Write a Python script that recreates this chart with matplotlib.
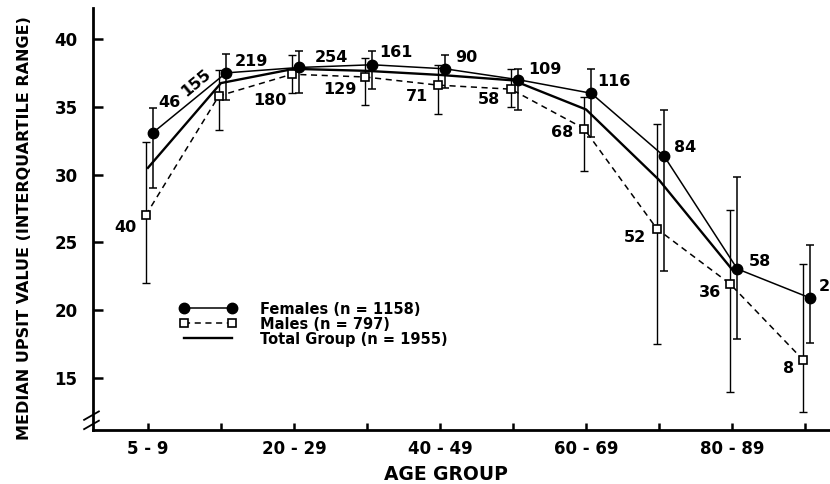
import matplotlib.pyplot as plt
import numpy as np

age_groups = ["5 - 9", "10 - 19", "20 - 29", "30 - 39", "40 - 49",
              "50 - 59", "60 - 69", "70 - 79", "80 - 89", "90 - 99"]

female_median = [33.1, 37.5, 37.9, 38.1, 37.8, 37.0, 36.0, 31.35, 23.05, 20.9]
female_q_hi = [34.9, 38.9, 39.1, 39.1, 38.8, 37.8, 37.8, 34.8, 29.8, 24.8]
female_q_lo = [29.0, 35.5, 36.0, 36.3, 36.4, 34.8, 32.8, 22.9, 17.9, 17.6]
# last count as it reads at the right edge of the picture
female_n = [46, 219, 254, 161, 90, 109, 116, 84, 58, 2]

male_median = [27.0, 35.8, 37.4, 37.2, 36.6, 36.3, 33.4, 26.0, 21.95, 16.35]
male_q_hi = [32.4, 37.7, 38.8, 38.6, 38.1, 37.8, 35.7, 33.7, 27.4, 23.4]
male_q_lo = [22.0, 33.3, 36.0, 35.1, 34.5, 35.0, 30.3, 17.5, 13.95, 12.5]
male_n = [40, 155, 180, 129, 71, 58, 68, 52, 36, 8]

# total group drawn only up to 80-89
total_median = [30.5, 36.75, 37.8, 37.65, 37.35, 36.95, 34.8, 29.6, 23.0]

# label offsets in pixels from the marker (x, y up)
female_offsets = [(16, 30), (25, 11), (32, 10), (24, 12), (21, 11),
                  (27, 10), (23, 12), (21, 9), (23, 7), (8, 12)]
male_offsets = [(-20, -12), (-23, 13), (-22, -26), (-25, -13), (-21, -11),
                (-22, -10), (-22, -4), (-22, -9), (-20, -9), (-14, -9)]

plt.rcParams["font.family"] = "DejaVu Sans"
plt.rcParams["font.weight"] = "bold"
plt.rcParams["axes.labelweight"] = "bold"

fig = plt.figure(figsize=(8.3, 4.84), dpi=100)
ax = fig.add_axes([0.112, 0.1116, 0.888, 0.872])

x = np.arange(len(age_groups))
xf = x + 0.07
xm = x - 0.03
fmed = np.array(female_median)
mmed = np.array(male_median)

ax.errorbar(xf, fmed, yerr=[fmed - np.array(female_q_lo), np.array(female_q_hi) - fmed],
            fmt="none", ecolor="black", elinewidth=1.1, capsize=3, capthick=1.1, zorder=2)
ax.errorbar(xm, mmed, yerr=[mmed - np.array(male_q_lo), np.array(male_q_hi) - mmed],
            fmt="none", ecolor="black", elinewidth=1.0, capsize=3, capthick=1.0, zorder=2)

(h_tot,) = ax.plot(x[:len(total_median)], total_median, color="black", lw=1.7, zorder=3,
                   label="Total Group (n = 1955)")
(h_m,) = ax.plot(xm, mmed, color="black", lw=1.1, ls="--", dashes=(4, 3), marker="s",
                 ms=6, mfc="white", mec="black", mew=1.2, zorder=4,
                 label="Males (n = 797)")
(h_f,) = ax.plot(xf, fmed, color="black", lw=1.1, marker="o", ms=7.5, zorder=5,
                 label="Females (n = 1158)")

for i, (xi, yi, n, off) in enumerate(zip(xf, fmed, female_n, female_offsets)):
    ax.annotate(str(n), (xi, yi), xytext=off, textcoords="offset pixels",
                ha="left" if i == len(female_n) - 1 else "center", va="center",
                fontsize=11.5)
for xi, yi, n, off in zip(xm, mmed, male_n, male_offsets):
    ax.annotate(str(n), (xi, yi), xytext=off, textcoords="offset pixels",
                ha="center", va="center", fontsize=11.5,
                rotation=40 if n == 155 else 0)

ax.set_xlim(-0.753, 9.34)
ax.set_ylim(11.17, 42.29)
ax.set_xticks(x)
ax.set_xticklabels([g if i % 2 == 0 else "" for i, g in enumerate(age_groups)])
ax.set_yticks([15, 20, 25, 30, 35, 40])

for side in ["top", "right"]:
    ax.spines[side].set_visible(False)
for side in ["left", "bottom"]:
    ax.spines[side].set_linewidth(2)

ax.tick_params(axis="x", direction="in", length=5, width=1.8, pad=7, labelsize=12)
ax.tick_params(axis="y", direction="in", length=7, width=1.8, pad=11, labelsize=12)

# axis break marks on the y axis
for yb in [0.012, 0.034]:
    ax.plot([-0.012, 0.008], [yb - 0.01, yb + 0.01], color="black", lw=1.3,
            transform=ax.transAxes, clip_on=False)

ax.set_xlabel("AGE GROUP", fontsize=13.5)
ax.xaxis.set_label_coords(0.479, -0.083)
ax.set_ylabel("MEDIAN UPSIT VALUE (INTERQUARTILE RANGE)", fontsize=11.5)
ax.yaxis.set_label_coords(-0.083, 0.479)

ax.legend(handles=[h_f, h_m, h_tot], loc="center left", bbox_to_anchor=(0.118, 0.251),
          frameon=False, fontsize=10.5, numpoints=2, handlelength=3.9,
          handletextpad=1.6, labelspacing=0.0, borderpad=0, borderaxespad=0)

fig.savefig("out.png", dpi=100)
